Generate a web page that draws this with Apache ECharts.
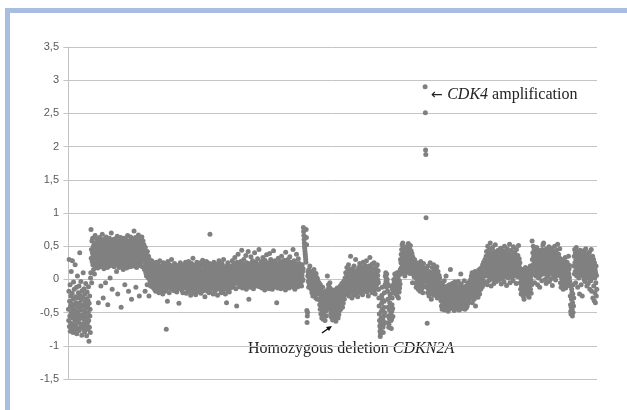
<!DOCTYPE html>
<html>
<head>
<meta charset="utf-8">
<script src="https://cdn.jsdelivr.net/npm/echarts@6/dist/echarts.min.js"></script>
<style>
html,body{margin:0;padding:0;background:#fff;}
#chart{width:627px;height:410px;}
</style>
</head>
<body>
<div id="chart"></div>
<script>
// Log2 ratio values (x100), in genome order, grouped by region
const seg01 = [-45,-62,-18,30,-71,-33,-55,-8,-78,-40,-25,-66,12,-50,-37,-73,-21,28,-58,-44,-80,-30,-4,-68,-52,-15,-76,-39,-61,22,-47,-26,-70,-35,-57,-12,-82,-49,-63,5,-28,-75,-42,-20,-65,-53,-10,-77,-36,40,-59,-24,-72,-46,-3,-67,-31,-54,-84,-17,-41,-69,-27,-56,10,-74,-38,-60,-14,-48,-79,-22,-64,-34,-51,-6,-70,-43,-29,-85,-57,-19,-66,-40,-75,-32,-50,-11,-62,-93,-36,-72,-25,-55,-45,-80];
const seg02 = [2,10,75,32,45,-5,58,27,40,62,22,36,50,15,44,29,55,8,38,24,66,31,47,20,53,35,18,42,26,60,33,17,49,38,-35,28,57,41,23,63,30,46,19,52,37,-10,25,59,34,44,21,68,39,27,54,-28,32,48,16,61,36,43,24,56,30,-5,40,22,64,35,50,28,45,18,58,-38,33,41,26,55,37,20,62,31,47,2,39,25,53,34,70,43,28,57,-15,36,21,49,32,60,40,27,52,19,44,33,61,25,38,48,23,57,35,12,46,29,65,41,-22,31,54,26,43,37,18,59,30,50,22,45,36,63,28,-42,40,52,20,34,58,25,47,32,15,55,39,27,62,44,30,-8,51,24,38,60,21,46,35,17,56,29,42,66,33,26,49,-18,37,58,23,44,31,53,40,19,64,28,47,35,-30,52,25,39,61,34,45,20,57,30,48,73,37,22,55,42,27,63,32,-12,50,36,18,47,29,59,40,24,52,33,67,43,28,56,-25,38,21,48,35,62,30,45,53,26,41,64,34,19,50,37,58,31];
const seg03 = [45,28,52,35,15,40,30,-18,48,22,10,38,25,5,33,18,-8,42,12,28,20,2,35,15,-25,25,8,30,-2,18,12,-10,22,5,15,-5,28,0,10];
const seg04 = [5,-12,18,-3,10,24,-8,2,14,-15,7,20,-5,12,-18,3,26,-10,9,1,-6,16,8,-14,22,4,-2,12,-20,18,-7,6,28,-12,0,10,-4,15,-16,3,21,-9,11,-1,8,-22,14,5,25,-11,2,17,-6,9,-18,13,1,23,-3,6,-75,-14,19,-8,4,-33,11,27,-5,8,-12,15,2,-20,10,22,-1,7,-9,16,4,-15,12,30,-6,1,18,-11,9,-3,20,-8,5,13,-17,3,24,-4,11,-13,7,-2,16,-10,9,2,-19,14,6,-7,21,0,12,-14,8,-36,17,-5,3,10,-12,25,-3,6,15,-9,1,19,-16,5,-6,13,-20,8,22,-2,11,-10,4,17,-4,9,-13,2,26,-7,12,-21,18,0,14,-8,23,-15,6,11,-3,27,-11,3,9,-18,16,1,-6,20,-24,8,13,-1,24,-10,5,17,-14,2,32,-7,10,-20,15,-2,7,-16,21,4,-9,12,-23,19,1,11,-12,26,-5,8,16,-19,3,22,-8,14,-1,6,-15,18,10,-4,25,-11,5,-21,13,2,-7,20,-13,9,29,-3,12,-17,4,23,-10,7,-2,15,-26,11,0,18,-6,10,-14,27,3,-9,16,-18,8,-3,21,-12,5,14,-20,1,24,-7,68,13,-16,6,19,-1,10,-11,22,-5,3,-13,17,8,-22,12,-4,26,-9,15,-2,9,-18,20,4,-8,14,-14,7,23,-6,11,1,-24,16,6,-10,19,-3,28,10,-15,5,13,-7,22,-12,2,18,-20,7,-1,24,-9,12,-17,4,15,-5,30,-11,8,-3,19,-14,1,11,-22,17,6,-8,14,-35,3,21,-6,10,-16,25,-2,13,-10,7,18,-19,4,16,-4,9,-13];
const seg05 = [12,-4,20,6,-10,15,2,28,-8,10,4,18,-12,9,24,0,14,-6,33,7,-2,16,5,-14,21,11,-40,8,26,-3,13,3,38,-7,17,9,-1,22,6,-11,19,2,11,-5,27,14,-9,8,44,1,10,-13,16,5,23,-2,12,30,-6,18,7,-10,21,3,14,-4,36,9,-15,11,25,0,8,-8,17,4,42,-3,13,-30,6,20,-1,15,10,-12,24,2,34,-5,12,8,-9,19,3,28,-3,11,16,-14,5,22,9,-6,40,13,1,18,-2,7,26,-10,14,4,20,-4,10,31,-8,15,2,17,-1,45,8,-11,23,6,12,-3,19,9,-7,27,4,15,-13,21,0,11,33,-5,8,18,-9,24,3,13,-16,29,6,-2,20,10,-12,16,37,1,-6,22,14,-8,9,25,-3,5,18,-14,12,39,-1,21,7,-10,30,11,-5,16,3,26,8,-15,19,2,13,-7,43,10,-2,23,4,17,-11,28,6,-4,15,-9,20,12,-35,9,24,1,-13,18,7,32,-6,14,22,3,-8,16,11,-2,27,5,-14,19,10,35,-4,13,-10,21,8,0,25,-7,15,-12,6,29,2,-5,18,12,-16,41,7,20,-3,11,24,-9,4,17,-1,30,13,-6,22,8,-13,16,2,34,-4,10,26,1,-10,19,6,14,-7,23,9,-2,17,45,3,-12,12,28,-5,20,5,-15,11,-1,25,8,-8,18,38,2,14,-4,21,6,-11,15,31,0,10,-6,24,9,16,-3,19,4];
const seg06 = [10,-5,18,3,-10,14,6,22,-2,12,0,16,78,72,66,60,55,50,46,42,38,34,30,26,75,63,52,-47,-65,-55,-50,5,12,-3,8,-12,15,2,-8,10,20,-4,6];
const seg07 = [0,-8,12,-15,5,-3,-20,10,-10,2,-25,-6,8,-14,-2,15,-18,4,-9,-22,6,-12,-1,-28,9,-5,-16,3,-11,-30,1,-7,-19,-4,-13];
const seg08 = [-10,-22,-5,-30,-15,-38,-20,-45,-8,-33,-52,-25,-40,-18,-58,-35,-28,-48,-12,-42,-60,-30,-50,-22,-38,-55,-45,-26,-62,-35,-18,-48,-40,-28,-55,-32,-20,-44,5,-36,-25,-15,-40,-8,-30,-20,-35,-12,-22,-5,-28,-46,-14,-52,-33,-24,-57,-40,-18,-49,-30,-61,-43,-21,-54,-36,-27,-59,-45,-16,-39,-52,-25,-48,-34,-63,-41,-20,-56,-31,-44,-13,-50,-37,-26,-58,-42,-29,-53,-19,-35,-47,-24,-40,-10,-32,-45,-22,-38,-15,-28,-6,-33,-18,-42,-25,-12,-36,-20,-3,-26,-14,-30,-8,-22,2,-17];
const seg09 = [-5,10,-15,3,-22,8,18,-8,-2,12,-18,5,-10,22,-4,-25,6,15,-12,0,9,-20,35,-6,2,-14,11,-1,-28,7,16,-9,4,-17,13,-3,-24,20,-7,1,-12,8,-19,3,30,-5,-15,10,-2,-21,5,-8,14,-26,0,11,-10,-4,18,-16,2,-6,24,-13,7,-1,-20,12,-9,4,19,-15,1,9,-23,14,-4,26,-11,6,-2,15,-18,3,10,-8,21,-14,0,13,-6,28,-10,5,-19,17,2,-3,11,-25,8,-12,20,-1,-16,6,33,-7,12,-4,1,18,-13,9,-5,23,-20,4,14,-9,-2,10,-17,7,25,-11,3,16,-6,-22,12,0,-14,19,5,-8,8,-3,22,-15,6,-1,13];
const seg10 = [-5,-15,-28,-40,-52,-62,-70,-78,-86,-82,-74,-66,-58,-48,-36,-24,-12,-30,-45,-60,-72,-80,-68,-55,-42,-33,-20,-50,-65,-8];
const seg11 = [5,-8,10,-3,2,-12,8,-5,0];
const seg12 = [-6,-18,-30,-42,-55,-65,-72,-68,-58,-46,-35,-22,-10,-26,-40,-52,-62,-74,-60,-48,-38,-28,-15,-44,-56,-20];
const seg13 = [-8,-15,0,-20,-5,-12,8,-18,-3,-10,5,-22,-6,2,-14,-1,10,-25,-9,-17,3,-11,-28,-4,7,-19,-2,-13,12,-7];
const seg14 = [15,30,8,25,38,18,45,28,52,35,20,55,40,26,48,32,12,42,22,36,5,30,18,28,10,24,47,15,38,29,50,21,44,33,14,54,27,40,19,35,46,25,9,37,51,30,17,43,23,32,12,39,26,-5,34,20,8,28,15,22,4,18,30,10,16];
const seg15 = [8,-5,18,2,-12,12,25,-8,5,15,-3,20,0,-15,10,-6,14,3,-10,22,6,-18,11,-2,27,-9,16,1,-14,9,19,-4,4,-20,13,-7,24,0,-11,7,17,-1,10];
const seg16 = [290,251,195,188,93];
const seg17 = [5,-12,15,-3,-66,8,-20,20,-8,2,-15,12,-25,0,10,-18,-5,25,-10,4,-22,6,-30,-2,-14,8,18,-7,-19,11,1,-12,22,-4,-24,14,-9,3,-16,9,-1,16,-21,7,-6,-13,19,-3,-28,5,-10,12,-18,0,-8,-23,6,-15,2,-26,-5];
const seg18 = [-10,-25,-5,-32,-18,-40,-12,-28,-45,-20,-35,-8,-22,-42,-15,-30,-38,-2,-26,-46,-18,-33,-12,-40,-24,5,-30,-44,-16,-36,-22,-10,-38,-28,-48,-14,-34,-20,-42,-8,-26,-36,-18,-44,15,-30,-12,-40,-24,-32,-15,-28,-6,-38,-20,-35,-10,-43,-25,-31,-47,-17,-29,-4,-39,-22,-33,-13,-41,-27,-9,-36,-21,-45,-30,-14,-37,-24,-3,-40,-19,-32,-11,-46,-26,-35,-16,-42,-28,8,-34,-7,-23,-39,-18,-44,-29,-12,-37,-21,-27,-41,-15,-33,-2,-38,-24,-45,-17,-30,-11,-36,-25,-43,-20,-9,-32,-40,-14,-28,-22,-5,-35,-18,-30,-13,-26,-8,-19,-3];
const seg19 = [-10,-20,0,-15,-28,5,-8,-22,10,-35,-3,-18,-12,2,-25,-6,8,-30,-14,-1,-20,12,-9,-40,-4,-16,3,-11,-24,-7,6,-19,-2,-13,-27,4,-8,14,-17,-5,9,-22,-1,-12,16,-6,-15,2,11,-9,18,-3,7,-11,22,0,-7,13,26,5,15,-4,20,8,30];
const seg20 = [10,25,-5,18,35,5,42,12,28,-8,20,50,8,32,15,-2,38,22,45,10,28,2,55,18,35,12,-10,25,40,6,15,30,48,20,0,36,12,26,-6,42,8,22,34,16,52,4,28,10,38,-3,18,30,12,24,6,20,44,14,32,-1,26,9,40,17,3,35,21,47,11,29,-7,23,37,13,31,1,19,43,25,7,33,15,-4,27,50,9,36,18,4,24,41,12,30,-9,22,16,46,6,34,20,2,28,14,39,10,25,53,17,-5,31,19,8,35,23,44,11,27,3,37,15,29,-2,21,49,13,33,7,26,40,16,5,38,24,12,30,-6,45,18,9,34,22,14,36,4,27,51,11,20,31,8,17,25];
const seg21 = [-5,8,-15,2,-22,10,-10,-2,15,-18,0,-8,5,-25,-12,12,-4,-30,3,-14,6,-9,-1,18,-20,4,-6,-16,9,-11,13,-3,-24,7,-13,1,-19,16,-7,-27,2,-10,11,-4,20,-15,5,-1,-21,8,-8,14];
const seg22 = [58,30,15,40,22,50,8,35,18,45,25,-5,32,12,42,20,5,38,28,15,48,10,30,22,-8,36,18,44,2,26,12,34,20,-12,28,40,6,24,16,38,10,30,-2,22,45,14,35,52,18,28,55,20,8,33,14,41,25,0,37,19,29,-6,46,11,31,21,4,39,16,27,7,35,23,49,13,-3,30,18,43,9,24,38,1,28,15,47,20,34,-9,26,17,42,11,32,5,22,36,14,50,3,31,19,-1,40,25,12,44,27,8,35,21,53,16,29,6,38,13,24,33,10,46,20];
const seg23 = [15,-5,25,8,-12,18,2,30,-8,12,-2,22,5,-15,10,28,0,-10,14,20,4,-6,33,9,-13,17,1,24,-4,11,26,-9,6,19,-1,13,35,-7,8,16,3,21,-3];
const seg24 = [-10,-25,-38,-48,-52,-42,-30,-15,-20,-45,-55,-35,-22,-50,-8,-40,-28];
const seg25 = [20,35,8,45,25,12,40,-5,30,18,48,22,5,38,15,28,-12,32,10,42,25,2,36,18,-22,30,12,44,20,8,34,-8,26,14,40,22,-25,16,30,5,18,28,10,43,0,24,37,13,-3,31,9,46,21,3,33,17,-10,27,39,6,15,29,-6,36,11,23,1,41,19,-15,26,7,32,-2,20,45,14,-18,28,4,12,35,-28,22,8,30,-10,17,-32,25,2,-20,14,-35,10,-5,20,-25,6,-15];

const yTicks = [-1.5, 3.5, 0.5]; // min, max, step
const annotationAmp = ['\u2190 ', 'CDK4', ' amplification'];
const annotationDel = ['Homozygous deletion ', 'CDKN2A'];

const allValues = [].concat(seg01,seg02,seg03,seg04,seg05,seg06,seg07,seg08,seg09,seg10,seg11,seg12,seg13,seg14,seg15,seg16,seg17,seg18,seg19,seg20,seg21,seg22,seg23,seg24,seg25);
const points = allValues.map((v, i) => [i, v / 100]);

const chart = echarts.init(document.getElementById('chart'), null, {renderer: 'canvas'});
const gridColor = '#c4c4c4';
const serif = 'Liberation Serif';
chart.setOption({
  animation: false,
  backgroundColor: '#ffffff',
  grid: {left: 68, right: 30, top: 47, bottom: 31, containLabel: false},
  xAxis: {
    type: 'value', min: -2, max: allValues.length,
    axisLine: {show: false}, axisTick: {show: false}, axisLabel: {show: false}, splitLine: {show: false}
  },
  yAxis: {
    type: 'value', min: yTicks[0], max: yTicks[1], interval: yTicks[2],
    axisLine: {show: true, lineStyle: {color: gridColor, width: 1}},
    axisTick: {show: true, length: 5, lineStyle: {color: gridColor}},
    axisLabel: {
      color: '#595959', fontSize: 11, fontFamily: 'Liberation Sans', margin: 9,
      formatter: v => String(v).replace('.', ',')
    },
    splitLine: {show: true, lineStyle: {color: gridColor, width: 1}}
  },
  series: [{
    type: 'scatter',
    data: points,
    symbol: 'circle',
    symbolSize: 5,
    itemStyle: {color: '#808080', opacity: 1},
    silent: true,
    large: false
  }],
  graphic: [
    {type: 'rect', shape: {x: 5, y: 8, width: 622, height: 5}, style: {fill: '#a9bde0'}},
    {type: 'rect', shape: {x: 5, y: 8, width: 5, height: 402}, style: {fill: '#a9bde0'}},
    {type: 'text', left: 431, top: 87, style: {
      text: '{a|' + annotationAmp[0] + '}{i|' + annotationAmp[1] + '}{n|' + annotationAmp[2] + '}',
      rich: {
        a: {fontFamily: 'DejaVu Sans', fontSize: 14, fill: '#222'},
        n: {fontFamily: serif, fontSize: 16, fill: '#222'},
        i: {fontFamily: serif, fontSize: 16, fontStyle: 'italic', fill: '#222'}
      }
    }},
    {type: 'text', left: 248, top: 341, style: {
      text: '{n|' + annotationDel[0] + '}{i|' + annotationDel[1] + '}',
      rich: {
        n: {fontFamily: serif, fontSize: 16, fill: '#222'},
        i: {fontFamily: serif, fontSize: 16, fontStyle: 'italic', fill: '#222'}
      }
    }},
    {type: 'line', shape: {x1: 322, y1: 333, x2: 329, y2: 328}, style: {stroke: '#111', lineWidth: 1.5}},
    {type: 'polygon', shape: {points: [[332, 326], [326, 327], [329, 331]]}, style: {fill: '#111'}}
  ]
});
</script>
</body>
</html>
